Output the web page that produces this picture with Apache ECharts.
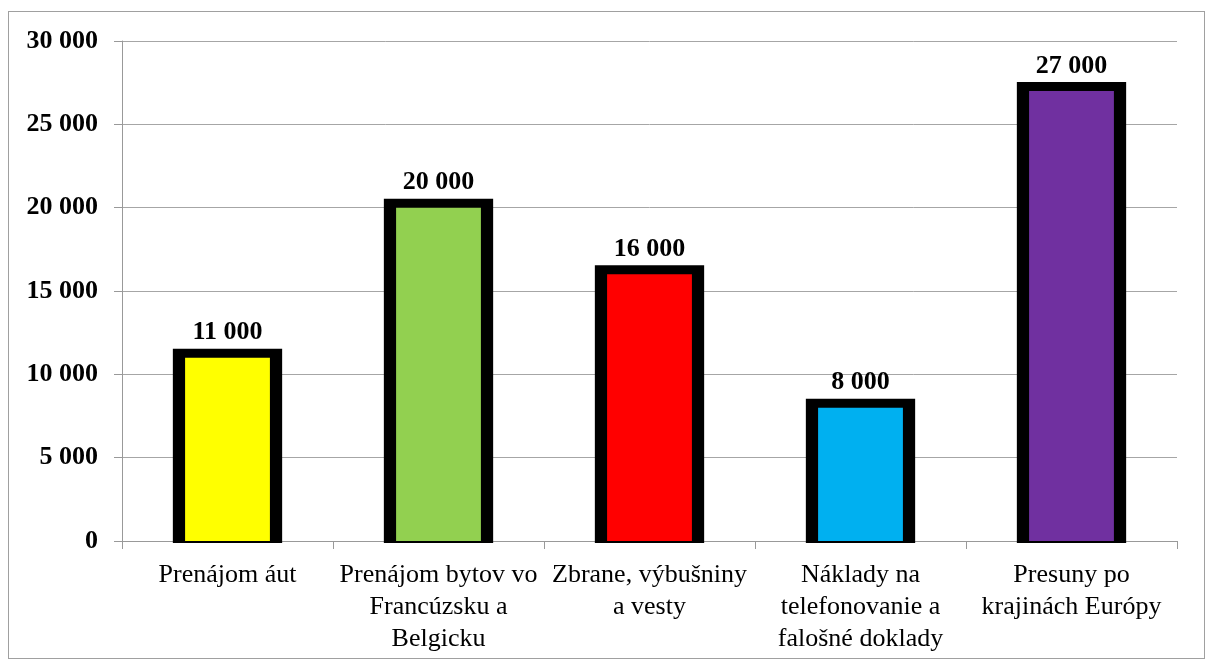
<!DOCTYPE html>
<html>
<head>
<meta charset="utf-8">
<script src="https://cdn.jsdelivr.net/npm/echarts@6/dist/echarts.min.js"></script>
<style>
html,body{margin:0;padding:0;background:#fff;}
#chart{position:absolute;left:0;top:0;width:1206px;height:659px;}
#frame{position:absolute;left:8px;top:11px;width:1195px;height:646px;border:1px solid #a0a0a0;pointer-events:none;}
</style>
</head>
<body>
<div id="chart"></div>
<div id="frame"></div>
<script>
const categories = [
  "Prenájom áut",
  "Prenájom bytov vo\nFrancúzsku a\nBelgicku",
  "Zbrane, výbušniny\na vesty",
  "Náklady na\ntelefonovanie a\nfalošné doklady",
  "Presuny po\nkrajinách Európy"
];
const values = [11000, 20000, 16000, 8000, 27000];
const barColors = ["#FFFF00", "#92D050", "#FF0000", "#00B0F0", "#7030A0"];
const yTicks = [0, 5000, 10000, 15000, 20000, 25000, 30000];

function fmt(v) {
  return String(v).replace(/\B(?=(\d{3})+(?!\d))/g, " ");
}

const font = "Liberation Serif";
const chart = echarts.init(document.getElementById('chart'));

function renderBar(params, api) {
  const i = params.dataIndex;
  const cat = api.value(0);
  const v = api.value(1);
  const top = api.coord([cat, v]);
  const base = api.coord([cat, 0]);
  const bandW = api.size([1, 0])[0];
  const cx = top[0];
  const innerW = bandW * 0.402;
  const outerW = bandW * 0.518;
  const borderTop = 9;
  const outerTop = top[1] - borderTop;
  return {
    type: 'group',
    children: [
      { type: 'rect',
        shape: { x: cx - outerW / 2, y: outerTop, width: outerW, height: base[1] + 2 - outerTop },
        style: { fill: '#000' } },
      { type: 'rect',
        shape: { x: cx - innerW / 2, y: top[1], width: innerW, height: base[1] - top[1] },
        style: { fill: barColors[i] } },
      { type: 'text',
        x: cx, y: outerTop - 3,
        style: { text: fmt(v), align: 'center', verticalAlign: 'bottom',
                 fill: '#000', font: 'bold 26px "' + font + '"' } }
    ]
  };
}

chart.setOption({
  animation: false,
  grid: { left: 122, right: 29, top: 41, bottom: 118, containLabel: false },
  xAxis: {
    type: 'category',
    data: categories,
    boundaryGap: true,
    axisLine: { show: true, lineStyle: { color: '#999999', width: 1 } },
    axisTick: { show: true, length: 8, alignWithLabel: false, lineStyle: { color: '#999999' } },
    axisLabel: {
      interval: 0, margin: 18, color: '#000', fontFamily: font, fontSize: 26,
      lineHeight: 32
    },
    splitLine: { show: false }
  },
  yAxis: {
    type: 'value',
    min: yTicks[0],
    max: yTicks[yTicks.length - 1],
    interval: yTicks[1] - yTicks[0],
    axisLine: { show: true, lineStyle: { color: '#999999', width: 1 } },
    axisTick: { show: true, length: 8, lineStyle: { color: '#999999' } },
    axisLabel: {
      margin: 24, color: '#000', fontFamily: font, fontSize: 26, fontWeight: 'bold',
      formatter: v => fmt(v)
    },
    splitLine: { show: true, lineStyle: { color: '#a6a6a6', width: 1 } }
  },
  series: [{
    type: 'custom',
    clip: false,
    renderItem: renderBar,
    encode: { x: 0, y: 1 },
    data: values.map((v, i) => [i, v])
  }]
});
</script>
</body>
</html>
